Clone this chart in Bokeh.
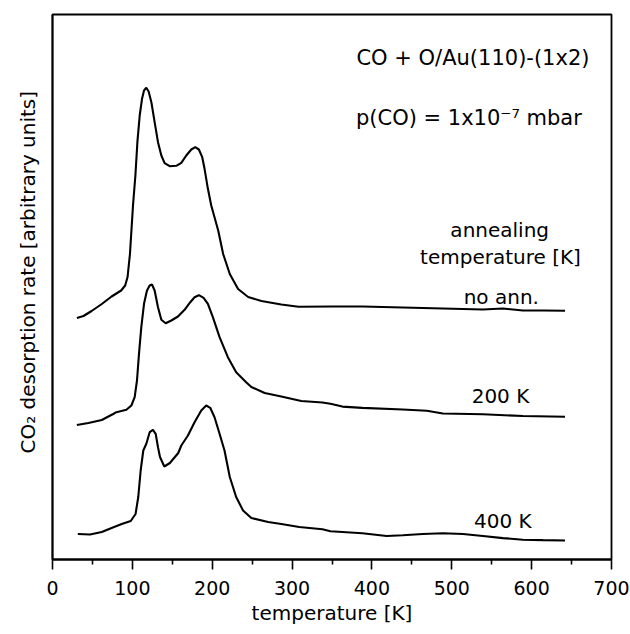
from bokeh.plotting import figure
from bokeh.models import Range1d, FixedTicker, Label, Title
from bokeh.embed import file_html
from bokeh.resources import INLINE

# temperature [K] and CO2 desorption rate (arbitrary units, curves offset vertically)
t_noann = [30.5, 38.8, 49, 61.7, 74, 86, 91, 94, 97, 100.8, 103.8, 106.3, 109.2, 112.1, 114.6, 117.5,
           120.4, 123.8, 127.9, 132.1, 136.3, 140.4, 146.7, 155, 161.3, 167.5, 173.8, 178.8, 183.3,
           187.5, 190.4, 194.6, 198.8, 207.5, 213.7, 222, 232.4, 245, 261.6, 286.5, 308, 350, 388,
           438.6, 488.8, 539, 564, 589, 615, 641.8]
r_noann = [241.5, 243.5, 248.5, 255.5, 263, 269, 274, 282.5, 305.5, 354, 384, 417.3, 444, 460.7, 469,
           471.7, 468, 457.3, 437.3, 417.3, 404, 396.3, 393.3, 393.7, 396.7, 404, 410, 412.3, 410,
           402.3, 390.7, 370.7, 354, 329, 305.5, 285.5, 270.5, 262.5, 258.5, 255, 252.7, 253, 253,
           252, 251, 250, 251, 249, 249, 248.7]

t_200 = [30.5, 45, 61.7, 76, 80, 92.5, 98.8, 102.9, 105.8, 108.3, 111.2, 114.6, 118.3, 121.7, 124.6,
         127.9, 132.1, 136.3, 141.7, 148.8, 157.1, 165.4, 172.5, 177.9, 183.3, 189.2, 194.6, 200.8,
         209.2, 219.6, 230, 242.5, 249, 265.7, 286.5, 311.5, 338, 348, 363, 388, 438.6, 468.7,
         488.8, 539, 589, 641.8]
r_200 = [134.5, 136.5, 139.5, 145.5, 147.3, 149.7, 154, 162.3, 179, 205.7, 232.3, 255.7, 269, 274,
         275, 269, 252.3, 239.7, 236.3, 239, 243, 249.7, 257.3, 262.3, 264.3, 261.7, 255.7, 242.3,
         222.3, 202.3, 187.3, 177.3, 172.5, 166.5, 163, 158.5, 157, 155.7, 152.9, 151.6, 150, 148.8,
         146, 145.2, 143.5, 142.7]

t_400 = [31.7, 47, 61.7, 74, 86.7, 98, 104, 107.4, 110.4, 113.7, 117.5, 121.7, 125.8, 129.2, 132.1,
         134.6, 140, 147, 157.5, 161.3, 169.6, 177.9, 186.3, 192.5, 197.5, 202.9, 209.2, 215.4, 222,
         230, 238.6, 249, 270, 286.5, 309, 338, 348, 388, 418.5, 438.6, 463.7, 488.8, 514, 539, 564,
         589, 614, 641.8]
r_400 = [25.5, 25, 27.5, 31.5, 35.5, 38.5, 45.5, 62.5, 89, 109, 115.7, 127.3, 129.7, 125.7, 112.3,
         102.5, 93, 96.5, 106.5, 114, 124, 137.3, 149, 154, 151.7, 142.3, 125.7, 109, 82.5, 62.5, 49,
         41.5, 37.5, 35.5, 32.5, 30.3, 28.3, 26.3, 23.5, 24.3, 25.5, 26.3, 25.5, 23.5, 21.4, 19.8,
         19.4, 19]

x_ticks = [0, 100, 200, 300, 400, 500, 600, 700]
x_minor = [50, 150, 250, 350, 450, 550, 650]

FONT = "DejaVu Sans"

p = figure(width=630, height=634, output_backend="svg", toolbar_location=None,
           x_range=Range1d(0, 700), y_range=Range1d(0, 545),
           min_border_left=51, min_border_right=19, min_border_top=14, min_border_bottom=75)
p.background_fill_color = "white"
p.border_fill_color = "white"
p.outline_line_color = "black"
p.outline_line_width = 1.8
p.grid.visible = False

xa = p.xaxis[0]
xa.ticker = FixedTicker(ticks=x_ticks, minor_ticks=x_minor)
xa.axis_line_width = 1.8
xa.major_tick_in = 0
xa.major_tick_out = 10
xa.minor_tick_in = 0
xa.minor_tick_out = 5
xa.major_tick_line_width = 1.6
xa.minor_tick_line_width = 1.6
xa.major_label_text_font = FONT
xa.major_label_text_font_size = "19px"
xa.major_label_text_color = "black"
xa.major_label_standoff = 11
xa.axis_label = "temperature [K]"
xa.axis_label_text_font = FONT
xa.axis_label_text_font_size = "20px"
xa.axis_label_text_font_style = "normal"
xa.axis_label_text_color = "black"
xa.axis_label_standoff = 3

ya = p.yaxis[0]
ya.ticker = FixedTicker(ticks=[])
ya.axis_line_width = 1.8
ya.major_tick_out = 0
ya.major_tick_in = 0
ya.minor_tick_out = 0
ya.minor_tick_in = 0

for t, r in [(t_noann, r_noann), (t_200, r_200), (t_400, r_400)]:
    p.line(t, r, line_color="black", line_width=2.1)

p.add_layout(Title(text="CO₂ desorption rate [arbitrary units]", align="left", offset=106,
                   standoff=26, text_font=FONT, text_font_size="20px",
                   text_font_style="normal", text_color="black"), "left")

notes = [
    (380.6, 501.7, "CO + O/Au(110)-(1x2)", "left", "21px"),
    (380.0, 441.7, "p(CO) = 1x10⁻⁷ mbar", "left", "21px"),
    (560.0, 329.7, "annealing", "center", "20px"),
    (561.0, 302.3, "temperature [K]", "center", "20px"),
    (562.0, 262.3, "no ann.", "center", "20px"),
    (561.0, 164.0, "200 K", "center", "20px"),
    (564.0, 39.0, "400 K", "center", "20px"),
]
for x, y, txt, al, fs in notes:
    p.add_layout(Label(x=x, y=y, text=txt, text_align=al, text_baseline="alphabetic",
                       text_font=FONT, text_font_size=fs, text_color="black"))

open("out.html", "w").write(file_html(p, INLINE))
